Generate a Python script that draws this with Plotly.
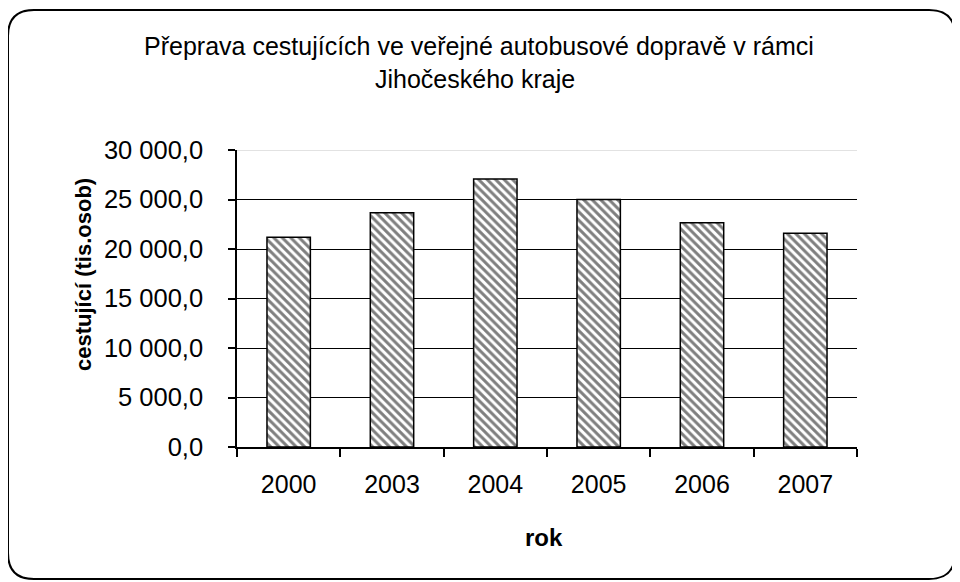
import plotly.graph_objects as go

years = ["2000", "2003", "2004", "2005", "2006", "2007"]
passengers = [21180, 23650, 27060, 25000, 22640, 21580]
y_ticks = [0, 5000, 10000, 15000, 20000, 25000, 30000]

title_line1 = "Přeprava cestujících ve veřejné autobusové dopravě v rámci"
title_line2 = "Jihočeského kraje"
y_title = "cestující (tis.osob)"
x_title = "rok"

# page has an 8px body margin; work in page pixels and shift
OFF = 8
W, H = 960 - OFF, 582 - OFF
L, R, T, B = 237, 857, 150, 447  # page pixel positions of plot area
PW, PH = R - L, B - T


def px(x):
    return (x - L) / PW


def py(y):
    return (B - y) / PH


FONT = "Liberation Sans, Arial, sans-serif"

fig = go.Figure(
    go.Bar(
        x=years,
        y=passengers,
        marker=dict(
            color="white",
            line=dict(color="black", width=1.5),
            pattern=dict(shape="\\", fgcolor="black", bgcolor="white", size=6, solidity=0.5),
        ),
    )
)

fig.update_layout(
    width=W,
    height=H,
    margin=dict(l=L - OFF, r=960 - R, t=T - OFF, b=582 - B, pad=0),
    paper_bgcolor="white",
    plot_bgcolor="white",
    bargap=0.58,
    showlegend=False,
    separators=", ",
    font=dict(family=FONT, size=24, color="black"),
)

fig.update_xaxes(
    type="category",
    showline=True,
    linecolor="black",
    linewidth=1.5,
    ticks="outside",
    tickson="boundaries",
    ticklen=8,
    tickwidth=1.5,
    tickcolor="black",
    showgrid=False,
    ticklabelstandoff=14,
    tickfont=dict(size=25),
)

fig.update_yaxes(
    range=[0, 30000],
    tickvals=y_ticks,
    tickformat=",.1f",
    showline=True,
    linecolor="black",
    linewidth=1.5,
    ticks="outside",
    ticklen=7,
    tickwidth=1.5,
    tickcolor="black",
    showgrid=True,
    gridcolor="black",
    gridwidth=1,
    zeroline=False,
    ticklabelstandoff=20,
    tickfont=dict(size=25.5),
)

# light top border of plot area at 30000
fig.add_shape(type="line", xref="paper", yref="y", x0=0, x1=1, y0=30000, y1=30000,
              line=dict(color="#d9d9d9", width=1.5), layer="above")

# rounded outer border
x0, y0, x1, y1, r = 8, 10, 955, 579, 26
path = (
    f"M {px(x0 + r)} {py(y0)} L {px(x1 - r)} {py(y0)} "
    f"Q {px(x1)} {py(y0)} {px(x1)} {py(y0 + r)} "
    f"L {px(x1)} {py(y1 - r)} "
    f"Q {px(x1)} {py(y1)} {px(x1 - r)} {py(y1)} "
    f"L {px(x0 + r)} {py(y1)} "
    f"Q {px(x0)} {py(y1)} {px(x0)} {py(y1 - r)} "
    f"L {px(x0)} {py(y0 + r)} "
    f"Q {px(x0)} {py(y0)} {px(x0 + r)} {py(y0)} Z"
)
fig.add_shape(type="path", xref="paper", yref="paper", path=path,
              line=dict(color="black", width=2), fillcolor="rgba(0,0,0,0)", layer="above")

fig.add_annotation(text=title_line1, xref="paper", yref="paper", x=px(479), y=py(46),
                   xanchor="center", yanchor="middle", showarrow=False,
                   font=dict(size=25, family=FONT))
fig.add_annotation(text=title_line2, xref="paper", yref="paper", x=px(475), y=py(79),
                   xanchor="center", yanchor="middle", showarrow=False,
                   font=dict(size=25, family=FONT))
fig.add_annotation(text="<b>" + y_title + "</b>", xref="paper", yref="paper", x=px(83), y=py(275),
                   xanchor="center", yanchor="middle", showarrow=False, textangle=-90,
                   font=dict(size=22, family=FONT))
fig.add_annotation(text="<b>" + x_title + "</b>", xref="paper", yref="paper", x=px(544), y=py(537),
                   xanchor="center", yanchor="middle", showarrow=False,
                   font=dict(size=24, family=FONT))

fig.write_html("out.html")
